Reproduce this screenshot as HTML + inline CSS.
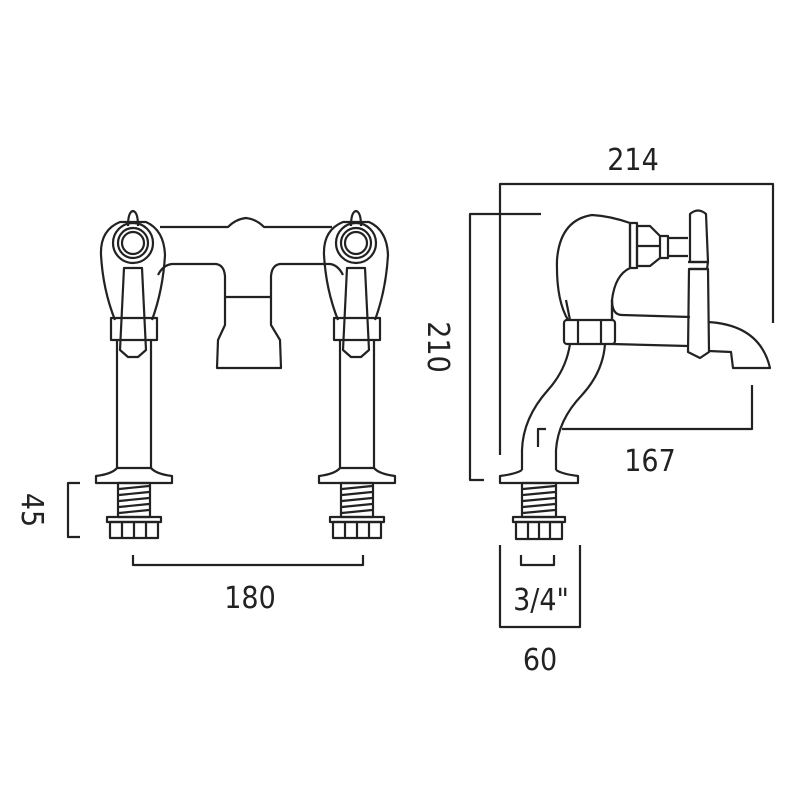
<!DOCTYPE html>
<html><head><style>
html,body{margin:0;padding:0;background:#fff;}
svg{display:block;}
text{font-family:"DejaVu Sans Condensed","Liberation Sans",sans-serif;font-size:30px;fill:#222;font-weight:300;}
</style></head><body>
<svg width="800" height="800" viewBox="0 0 800 800" xmlns="http://www.w3.org/2000/svg">
<g fill="none" stroke="#222" stroke-width="2.2" stroke-linejoin="round">
<!-- LEFT VIEW -->
<!-- bridge top -->
<path d="M160 227 L228 227 Q236 219 246 218 Q256 219 264 227 L332 227"/>
<!-- inner arch -->
<path d="M158 275 Q163 265 172 264 L216 264 Q224 265 225 276 L225 297 L271 297 L271 276 Q272 265 280 264 L330 264 Q338 265 343 275"/>
<path d="M225 297 L225 325 L218 340 L217 368 L281 368 L280 340 L271 325 L271 297"/>
<!-- taps -->
<g id="tapL">
<path d="M115 320 Q103 290 101 255 Q100 230 120 222 L146 222 Q164 230 165 255 Q163 290 152 320"/>
<circle cx="133" cy="243" r="20"/>
<circle cx="133" cy="243" r="15"/>
<circle cx="133" cy="243" r="11"/>
<path d="M128 226 Q128 212 133 211 Q138 212 138 226"/>
<rect x="111" y="318" width="46" height="22"/>
<path d="M124 268 L142 268 L146 350 L138 357 L128 357 L120 350 Z"/>
<path d="M117 340 L117 468 M151 340 L151 468"/>
<path d="M117 468 Q112 474 96 476 L96 483 L172 483 L172 476 Q156 474 151 468 Z"/>
<rect x="118" y="483" width="32" height="34"/>
<path d="M119 489 L149 486 M119 495 L149 492 M119 501 L149 498 M119 507 L149 504 M119 513 L149 510"/>
<rect x="107" y="517" width="54" height="5"/>
<rect x="110" y="522" width="48" height="16"/>
<path d="M122 522 L122 538 M134 522 L134 538 M146 522 L146 538"/>
</g>
<use href="#tapL" transform="translate(223,0)"/>
<!-- dims left -->
<path d="M80 483 L68 483 L68 537 L80 537"/>
<path d="M133 555 L133 565 L363 565 L363 555"/>

<!-- RIGHT VIEW -->
<!-- 214 -->
<path d="M500 455 L500 184 L773 184 L773 323"/>
<!-- 210 -->
<path d="M541 214 L470 214 L470 480 L484 480"/>
<!-- 167 -->
<path d="M752 385 L752 429 L562 429 M546 429 L538 429 L538 447"/>
<!-- 60 / 3/4 -->
<path d="M500 545 L500 627 L580 627 L580 545"/>
<path d="M521 555 L521 565 L554 565 L554 555"/>
<!-- tap body -->
<path d="M568 320 Q556 300 557 260 Q560 220 592 215 Q610 216 630 223 L630 268 Q615 275 612 300 L612 320"/>
<path d="M566 300 L570 320 M612 300 L612 320"/>
<rect x="630" y="223" width="7" height="45"/>
<path d="M637 226 L650 226 L660 236 L660 258 L650 266 L637 266 Z M637 246 L660 246"/>
<path d="M660 236 L668 236 L668 258 L660 258 M668 238 L688 238 M668 256 L688 256"/>
<path d="M690 214 Q698 207 706 214 L708 262 L690 262 Z"/>
<path d="M688 262 L708 262 L707 269 L689 269"/>
<path d="M689 269 L708 269 L709 352 L700 358 L688 352 Z"/>
<!-- spout -->
<path d="M612 300 Q612 315 622 315 L690 317 M708 322 Q760 325 770 368 L733 368 L731 352 L709 351"/>
<path d="M612 344 L688 346"/>
<!-- nut -->
<rect x="564" y="320" width="51" height="24" rx="3"/>
<path d="M578 320 L578 344 M601 320 L601 344"/>
<!-- pipe -->
<path d="M570 344 Q566 370 548 390 Q523 418 522 450 L522 470"/>
<path d="M605 344 Q603 372 582 395 Q558 420 556 450 L556 470"/>
<path d="M522 470 Q516 474 500 476 L500 483 L578 483 L578 476 Q562 474 556 470"/>
<rect x="522" y="483" width="34" height="34"/>
<path d="M523 489 L555 486 M523 495 L555 492 M523 501 L555 498 M523 507 L555 504 M523 513 L555 510"/>
<rect x="513" y="517" width="52" height="5"/>
<rect x="516" y="522" width="46" height="17"/>
<path d="M528 522 L528 539 M539 522 L539 539 M550 522 L550 539"/>
</g>
<text x="250" y="608" text-anchor="middle">180</text>
<text transform="translate(22,510) rotate(90)" text-anchor="middle">45</text>
<text x="633" y="170" text-anchor="middle">214</text>
<text transform="translate(428,347) rotate(90)" text-anchor="middle">210</text>
<text x="650" y="471" text-anchor="middle">167</text>
<text x="541" y="610" text-anchor="middle">3/4"</text>
<text x="540" y="670" text-anchor="middle">60</text>
</svg>
</body></html>
